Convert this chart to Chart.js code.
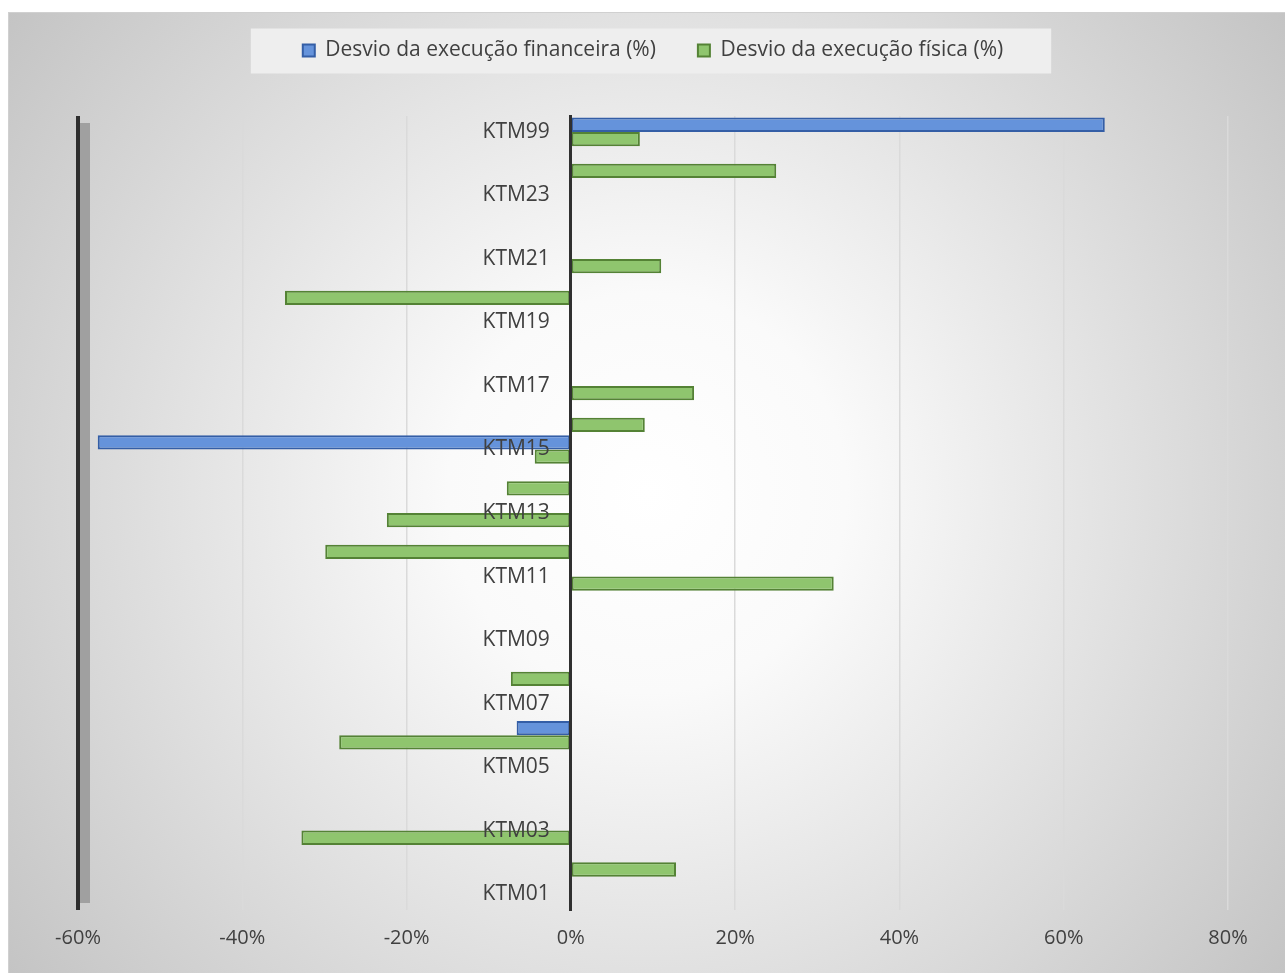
<!DOCTYPE html>
<html>
<head>
<meta charset="utf-8">
<script src="https://cdn.jsdelivr.net/npm/chart.js@4"></script>
<style>
    html, body { margin: 0; padding: 0; background: #ffffff; }
    #wrap {
        position: absolute; left: 8px; top: 12px; width: 1277px; height: 961px;
        box-sizing: border-box;
        border-top: 1px solid #d0d0d0; border-left: 1px solid #d0d0d0;
        background: radial-gradient(circle farthest-corner at 50% 50%, #ffffff 0%, #fafafa 25%, #c4c4c4 100%);
    }
</style>
</head>
<body>
<div id="wrap"><canvas id="desvioChart"></canvas></div>
<script>
// categorias de cima para baixo, como aparecem no gráfico
const categorias = ["KTM99", "KTM24", "KTM23", "KTM22", "KTM21", "KTM20", "KTM19", "KTM18", "KTM17",
    "KTM16", "KTM15", "KTM14", "KTM13", "KTM12", "KTM11", "KTM10", "KTM09", "KTM08", "KTM07",
    "KTM06", "KTM05", "KTM04", "KTM03", "KTM02", "KTM01"];

const desvioFinanceiro = [65, 0, 0, 0, 0, 0, 0, 0, 0,
    0, -57.6, 0, 0, 0, 0, 0, 0, 0, 0,
    -6.6, 0, 0, 0, 0, 0];

const desvioFisico = [8.4, 25, 0, 0, 11, -34.8, 0, 0, 15,
    9, -4.4, -7.8, -22.4, -29.9, 32, 0, 0, -7.3, 0,
    -28.2, 0, 0, -32.8, 12.8, 0];

const eixoMin = -60;
const eixoMax = 80;
const eixoPasso = 20;

Chart.defaults.font.family = "'Open Sans', sans-serif";
Chart.defaults.color = "#404040";

// a legenda é desenhada mais acima do que o padding a colocaria
const legendaSubida = 32;

const fundoLegenda = {
    id: "fundoLegenda",
    beforeDraw(chart) {
        const boxes = chart.legend.legendHitBoxes;
        if (!boxes || !boxes.length) return;
        const first = boxes[0];
        const last = boxes[boxes.length - 1];
        const cy = first.top + first.height / 2 - legendaSubida;
        const ctx = chart.ctx;
        ctx.save();
        ctx.fillStyle = "#eeeeee";
        ctx.fillRect(first.left - 52, cy - 22, last.left + last.width - first.left + 100, 45);
        ctx.restore();
    }
};

const ajusteLegenda = {
    id: "ajusteLegenda",
    afterInit(chart) {
        const legend = chart.legend;
        const fitOriginal = legend.fit;
        legend.fit = function () {
            fitOriginal.call(this);
            this.height = 86;
        };
        const drawOriginal = legend.draw;
        legend.draw = function () {
            this.ctx.save();
            this.ctx.translate(0, -legendaSubida);
            drawOriginal.call(this);
            this.ctx.restore();
        };
    }
};

const paredeLateral = {
    id: "paredeLateral",
    beforeDatasetsDraw(chart) {
        const { ctx, chartArea, scales } = chart;
        const x0 = scales.x.getPixelForValue(eixoMin);
        ctx.save();
        ctx.fillStyle = "#a0a0a0";
        ctx.fillRect(x0 + 2, chartArea.top + 7, 10, chartArea.bottom - chartArea.top - 14);
        ctx.restore();
    }
};

const ctx = document.getElementById("desvioChart").getContext("2d");
new Chart(ctx, {
    type: "bar",
    data: {
        labels: categorias,
        datasets: [{
            label: "Desvio da execução financeira (%)",
            data: desvioFinanceiro,
            backgroundColor: "#6593db",
            borderColor: "#345ea6",
            borderWidth: 2,
            borderSkipped: false,
            categoryPercentage: 0.9,
            barPercentage: 1
        }, {
            label: "Desvio da execução física (%)",
            data: desvioFisico,
            backgroundColor: "#8fc56e",
            borderColor: "#548235",
            borderWidth: 2,
            borderSkipped: false,
            categoryPercentage: 0.9,
            barPercentage: 1
        }]
    },
    options: {
        indexAxis: "y",
        responsive: true,
        maintainAspectRatio: false,
        animation: false,
        layout: {
            padding: { left: 69, right: 57, top: 17, bottom: 7 }
        },
        scales: {
            x: {
                min: eixoMin,
                max: eixoMax,
                ticks: {
                    stepSize: eixoPasso,
                    padding: 16,
                    color: "#404040",
                    font: { size: 20 },
                    callback: v => v + "%"
                },
                grid: {
                    drawTicks: false,
                    color: c => c.tick && c.tick.value === eixoMin ? "#2e2e2e" : "#dadada",
                    lineWidth: c => c.tick && c.tick.value === eixoMin ? 4 : 1.5
                },
                border: { display: false }
            },
            y: {
                position: { x: 0 },
                grid: { display: true, drawTicks: false, color: "rgba(0,0,0,0)" },
                border: { display: true, color: "#303030", width: 3, z: 1 },
                ticks: {
                    z: 1,
                    autoSkip: false,
                    color: "#404040",
                    font: { size: 21 },
                    callback: function (v, i) {
                        // espaço à direita para afastar o rótulo do eixo
                        return i % 2 === 0 ? this.getLabelForValue(v) + "\u2003" : "";
                    }
                }
            }
        },
        plugins: {
            legend: {
                position: "top",
                labels: {
                    boxWidth: 12,
                    boxHeight: 12,
                    padding: 42,
                    color: "#404040",
                    font: { size: 21 }
                }
            },
            tooltip: { enabled: false }
        }
    },
    plugins: [fundoLegenda, ajusteLegenda, paredeLateral]
});
</script>
</body>
</html>
